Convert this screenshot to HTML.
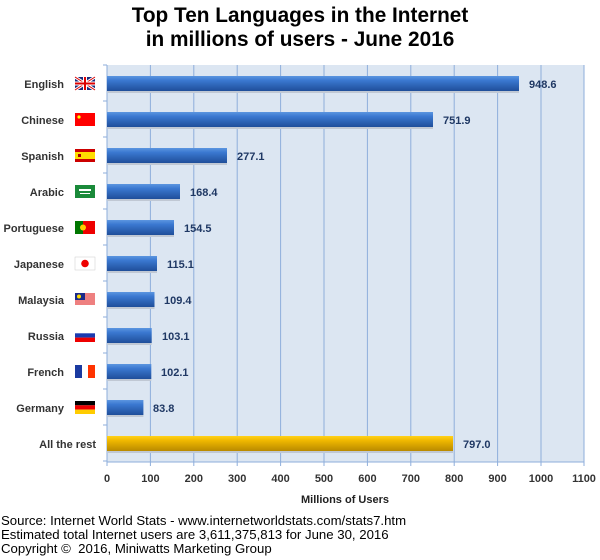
<!DOCTYPE html>
<html><head><style>
body{margin:0;background:#fff;width:600px;height:560px;overflow:hidden}
svg{display:block}
text{font-family:"Liberation Sans",Arial,sans-serif}
</style></head><body>
<svg width="600" height="560" viewBox="0 0 600 560">
<defs>
<linearGradient id="b" x1="0" y1="0" x2="0" y2="1">
<stop offset="0" stop-color="#5b95e0"/><stop offset="0.3" stop-color="#3a78d0"/><stop offset="1" stop-color="#1f4e9a"/></linearGradient>
<linearGradient id="g" x1="0" y1="0" x2="0" y2="1">
<stop offset="0" stop-color="#ffd21a"/><stop offset="0.3" stop-color="#f0b800"/><stop offset="1" stop-color="#b98a00"/></linearGradient>
</defs>
<text x="300" y="22" text-anchor="middle" font-size="20.8" font-weight="bold" fill="#000">Top Ten Languages in the Internet</text>
<text x="300" y="46" text-anchor="middle" font-size="20.8" font-weight="bold" fill="#000">in millions of users - June 2016</text>
<rect x="107" y="65" width="477" height="397" fill="#dce6f2"/>
<g stroke="#8eaedb" stroke-width="1">
<line x1="150.4" y1="65" x2="150.4" y2="462"/><line x1="193.8" y1="65" x2="193.8" y2="462"/><line x1="237.2" y1="65" x2="237.2" y2="462"/><line x1="280.6" y1="65" x2="280.6" y2="462"/><line x1="324" y1="65" x2="324" y2="462"/><line x1="367.4" y1="65" x2="367.4" y2="462"/><line x1="410.8" y1="65" x2="410.8" y2="462"/><line x1="454.2" y1="65" x2="454.2" y2="462"/><line x1="497.6" y1="65" x2="497.6" y2="462"/><line x1="541" y1="65" x2="541" y2="462"/><line x1="584" y1="65" x2="584" y2="462"/>
<line x1="107" y1="65" x2="107" y2="462"/><line x1="107" y1="462" x2="584" y2="462"/>
<path d="M103 65H107M103 101H107M103 137H107M103 173H107M103 209H107M103 245H107M103 281H107M103 317H107M103 353H107M103 389H107M103 425H107M103 461H107"/>
<path d="M107 462V466M150.4 462V466M193.8 462V466M237.2 462V466M280.6 462V466M324 462V466M367.4 462V466M410.8 462V466M454.2 462V466M497.6 462V466M541 462V466M584 462V466"/>
</g>
<g font-size="11" font-weight="bold" fill="#333" text-anchor="middle">
<text x="107" y="482">0</text><text x="150.4" y="482">100</text><text x="193.8" y="482">200</text><text x="237.2" y="482">300</text><text x="280.6" y="482">400</text><text x="324" y="482">500</text><text x="367.4" y="482">600</text><text x="410.8" y="482">700</text><text x="454.2" y="482">800</text><text x="497.6" y="482">900</text><text x="541" y="482">1000</text><text x="584" y="482">1100</text>
<text x="345" y="503" fill="#222">Millions of Users</text>
</g>
<g fill="#c0c8d4">
<rect x="107" y="91" width="412" height="2"/><rect x="107" y="127" width="326" height="2"/><rect x="107" y="163" width="120" height="2"/><rect x="107" y="199" width="73" height="2"/><rect x="107" y="235" width="67" height="2"/><rect x="107" y="271" width="50" height="2"/><rect x="107" y="307" width="47.5" height="2"/><rect x="107" y="343" width="44.7" height="2"/><rect x="107" y="379" width="44.3" height="2"/><rect x="107" y="415" width="36.4" height="2"/><rect x="107" y="451" width="346" height="2"/>
</g>
<g fill="url(#b)">
<rect x="107" y="76" width="412" height="15"/><rect x="107" y="112" width="326" height="15"/><rect x="107" y="148" width="120" height="15"/><rect x="107" y="184" width="73" height="15"/><rect x="107" y="220" width="67" height="15"/><rect x="107" y="256" width="50" height="15"/><rect x="107" y="292" width="47.5" height="15"/><rect x="107" y="328" width="44.7" height="15"/><rect x="107" y="364" width="44.3" height="15"/><rect x="107" y="400" width="36.4" height="15"/>
</g>
<rect x="107" y="436" width="346" height="15" fill="url(#g)"/>
<g font-size="11" font-weight="bold" fill="#1f3864">
<text x="529" y="88">948.6</text><text x="443" y="124">751.9</text><text x="237" y="160">277.1</text><text x="190" y="196">168.4</text><text x="184" y="232">154.5</text><text x="167" y="268">115.1</text><text x="164" y="304">109.4</text><text x="162" y="340">103.1</text><text x="161" y="376">102.1</text><text x="153" y="412">83.8</text><text x="463" y="448">797.0</text>
</g>
<g font-size="11" font-weight="bold" fill="#333" text-anchor="end">
<text x="64" y="88">English</text><text x="64" y="124">Chinese</text><text x="64" y="160">Spanish</text><text x="64" y="196">Arabic</text><text x="64" y="232">Portuguese</text><text x="64" y="268">Japanese</text><text x="64" y="304">Malaysia</text><text x="64" y="340">Russia</text><text x="64" y="376">French</text><text x="64" y="412">Germany</text><text x="96" y="448">All the rest</text>
</g>
<g>
<rect x="75" y="77" width="20" height="13" fill="#1a2a7a"/><path d="M75 77L95 90M95 77L75 90" stroke="#fff" stroke-width="3"/><path d="M75 77L95 90M95 77L75 90" stroke="#d00" stroke-width="1"/><rect x="83" y="77" width="4" height="13" fill="#fff"/><rect x="75" y="81.5" width="20" height="4" fill="#fff"/><rect x="84" y="77" width="2" height="13" fill="#d00"/><rect x="75" y="82.5" width="20" height="2" fill="#d00"/>
<rect x="75" y="113" width="20" height="13" fill="#f00"/><circle cx="79" cy="117" r="1.6" fill="#ff0"/>
<rect x="75" y="149" width="20" height="13" fill="#c00"/><rect x="75" y="152" width="20" height="7" fill="#fd0"/><rect x="78" y="154" width="3" height="3" fill="#a00"/>
<rect x="75" y="185" width="20" height="13" fill="#1a8a3a"/><rect x="79" y="189" width="12" height="2" fill="#fff"/><rect x="80" y="193" width="10" height="1" fill="#fff"/>
<rect x="75" y="221" width="20" height="13" fill="#e00"/><rect x="75" y="221" width="8" height="13" fill="#070"/><circle cx="83" cy="227.5" r="3" fill="#fc0"/>
<rect x="75" y="257" width="20" height="13" fill="#fff" stroke="#ccc" stroke-width="0.5"/><circle cx="85" cy="263.5" r="3.8" fill="#e00"/>
<rect x="75" y="293" width="20" height="13" fill="#fff"/><path d="M75 294h20M75 296h20M75 298h20M75 300h20M75 302h20M75 304h20" stroke="#d00" stroke-width="1"/><rect x="75" y="293" width="10" height="7" fill="#1a2a8a"/><circle cx="79" cy="296.5" r="2" fill="#fd0"/>
<rect x="75" y="329" width="20" height="4.3" fill="#fff"/><rect x="75" y="333.3" width="20" height="4.3" fill="#1a3ab0"/><rect x="75" y="337.6" width="20" height="4.4" fill="#e00"/>
<rect x="75" y="365" width="7" height="13" fill="#1a3aa0"/><rect x="82" y="365" width="6" height="13" fill="#fff"/><rect x="88" y="365" width="7" height="13" fill="#f30"/>
<rect x="75" y="401" width="20" height="4.3" fill="#000"/><rect x="75" y="405.3" width="20" height="4.3" fill="#e00"/><rect x="75" y="409.6" width="20" height="4.4" fill="#fc0"/>
</g>
<g font-size="13.2" fill="#000">
<text x="1" y="525">Source: Internet World Stats - www.internetworldstats.com/stats7.htm</text>
<text x="1" y="539">Estimated total Internet users are 3,611,375,813 for June 30, 2016</text>
<text x="1" y="553">Copyright © &#160;2016, Miniwatts Marketing Group</text>
</g>
</svg>
</body></html>
